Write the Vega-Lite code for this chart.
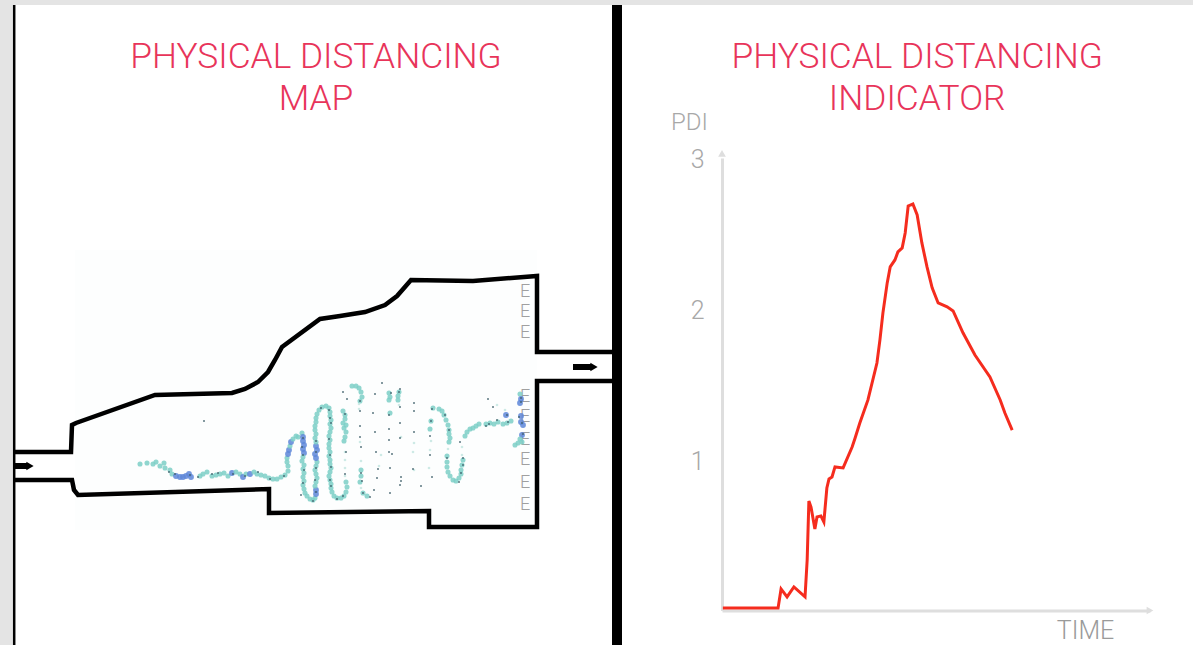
{"$schema":"https://vega.github.io/schema/vega-lite/v6.json","background":"#e4e4e4","padding":{"left":3,"top":0,"right":0,"bottom":0},"spacing":0,"bounds":"flush","config":{"view":{"stroke":null,"fill":"#ffffff"},"font":"Roboto"},
"datasets":{
"walls":[
{"w":"upper","o":1,"x":15,"y":452},{"w":"upper","o":2,"x":71,"y":452},{"w":"upper","o":3,"x":72,"y":425},{"w":"upper","o":4,"x":76,"y":423},{"w":"upper","o":5,"x":155,"y":395},{"w":"upper","o":6,"x":232,"y":393},{"w":"upper","o":7,"x":245,"y":389},{"w":"upper","o":8,"x":258,"y":382},{"w":"upper","o":9,"x":268,"y":372},{"w":"upper","o":10,"x":275,"y":360},{"w":"upper","o":11,"x":282,"y":347},{"w":"upper","o":12,"x":320,"y":319},{"w":"upper","o":13,"x":340,"y":316},{"w":"upper","o":14,"x":365,"y":312},{"w":"upper","o":15,"x":385,"y":305},{"w":"upper","o":16,"x":397,"y":296},{"w":"upper","o":17,"x":411,"y":280},{"w":"upper","o":18,"x":473,"y":281},{"w":"upper","o":19,"x":537,"y":276},{"w":"upper","o":20,"x":537,"y":352},{"w":"upper","o":21,"x":612,"y":352},
{"w":"lower","o":1,"x":15,"y":480},{"w":"lower","o":2,"x":72,"y":480},{"w":"lower","o":3,"x":74,"y":490},{"w":"lower","o":4,"x":78,"y":495},{"w":"lower","o":5,"x":269,"y":489},{"w":"lower","o":6,"x":269,"y":513},{"w":"lower","o":7,"x":429,"y":511},{"w":"lower","o":8,"x":429,"y":527},{"w":"lower","o":9,"x":537,"y":527},{"w":"lower","o":10,"x":537,"y":381},{"w":"lower","o":11,"x":612,"y":381}],
"exits":[{"x":525,"y":292,"t":"E"},{"x":525,"y":312,"t":"E"},{"x":525,"y":333,"t":"E"},{"x":525,"y":397,"t":"E"},{"x":525,"y":417,"t":"E"},{"x":525,"y":440,"t":"E"},{"x":525,"y":460,"t":"E"},{"x":525,"y":483,"t":"E"},{"x":525,"y":505,"t":"E"}],
"dots":[
{"x":140,"y":464,"d":"t"},{"x":147,"y":463,"d":"t"},{"x":153,"y":464,"d":"t"},{"x":156,"y":462,"d":"t"},{"x":160,"y":466,"d":"t"},{"x":164,"y":463,"d":"t"},{"x":165,"y":468,"d":"t"},{"x":170,"y":470,"d":"t"},{"x":172,"y":474,"d":"t"},{"x":176,"y":476,"d":"b"},{"x":180,"y":477,"d":"b"},{"x":183,"y":477,"d":"b"},{"x":186,"y":476,"d":"b"},{"x":189,"y":474,"d":"b"},{"x":191,"y":477,"d":"b"},{"x":200,"y":476,"d":"t"},{"x":203,"y":474,"d":"t"},{"x":207,"y":472,"d":"t"},{"x":212,"y":476,"d":"t"},{"x":216,"y":475,"d":"t"},{"x":220,"y":474,"d":"t"},{"x":224,"y":473,"d":"t"},{"x":228,"y":476,"d":"t"},{"x":232,"y":473,"d":"b"},{"x":236,"y":472,"d":"t"},{"x":240,"y":474,"d":"t"},{"x":243,"y":477,"d":"b"},{"x":246,"y":474,"d":"t"},{"x":250,"y":474,"d":"b"},{"x":254,"y":472,"d":"t"},{"x":257,"y":474,"d":"t"},{"x":261,"y":475,"d":"t"},{"x":265,"y":476,"d":"t"},{"x":269,"y":478,"d":"t"},{"x":273,"y":479,"d":"t"},{"x":277,"y":479,"d":"t"},{"x":281,"y":477,"d":"t"},{"x":285,"y":475,"d":"t"},{"x":288,"y":471,"d":"t"},
{"x":288,"y":466,"d":"t"},{"x":287,"y":462,"d":"t"},{"x":287,"y":458,"d":"t"},{"x":288,"y":454,"d":"b"},{"x":289,"y":450,"d":"b"},{"x":290,"y":446,"d":"t"},{"x":291,"y":442,"d":"b"},{"x":293,"y":439,"d":"t"},{"x":296,"y":436,"d":"t"},{"x":298,"y":437,"d":"t"},
{"x":302,"y":433,"d":"t"},{"x":303,"y":437,"d":"b"},{"x":303,"y":441,"d":"b"},{"x":304,"y":445,"d":"b"},{"x":303,"y":449,"d":"b"},{"x":304,"y":453,"d":"b"},{"x":303,"y":457,"d":"t"},{"x":302,"y":461,"d":"t"},{"x":304,"y":465,"d":"t"},{"x":303,"y":469,"d":"t"},{"x":304,"y":473,"d":"t"},{"x":303,"y":477,"d":"t"},{"x":304,"y":481,"d":"t"},{"x":303,"y":485,"d":"t"},{"x":304,"y":489,"d":"t"},{"x":305,"y":493,"d":"t"},{"x":307,"y":496,"d":"t"},{"x":310,"y":499,"d":"t"},{"x":313,"y":500,"d":"t"},{"x":315,"y":498,"d":"t"},
{"x":316,"y":494,"d":"b"},{"x":316,"y":490,"d":"b"},{"x":315,"y":486,"d":"t"},{"x":316,"y":482,"d":"t"},{"x":317,"y":478,"d":"t"},{"x":316,"y":474,"d":"t"},{"x":315,"y":470,"d":"t"},{"x":316,"y":466,"d":"t"},{"x":317,"y":462,"d":"t"},{"x":316,"y":458,"d":"b"},{"x":315,"y":454,"d":"b"},{"x":317,"y":450,"d":"b"},{"x":316,"y":446,"d":"b"},{"x":316,"y":442,"d":"t"},{"x":315,"y":438,"d":"t"},{"x":316,"y":434,"d":"t"},{"x":315,"y":430,"d":"t"},{"x":315,"y":426,"d":"t"},{"x":316,"y":422,"d":"t"},{"x":316,"y":418,"d":"t"},{"x":317,"y":414,"d":"t"},{"x":319,"y":410,"d":"t"},{"x":322,"y":407,"d":"t"},{"x":326,"y":406,"d":"t"},{"x":329,"y":408,"d":"t"},
{"x":330,"y":412,"d":"t"},{"x":330,"y":416,"d":"t"},{"x":331,"y":420,"d":"t"},{"x":330,"y":424,"d":"t"},{"x":331,"y":428,"d":"t"},{"x":330,"y":432,"d":"t"},{"x":329,"y":436,"d":"t"},{"x":330,"y":440,"d":"t"},{"x":329,"y":444,"d":"t"},{"x":329,"y":448,"d":"t"},{"x":330,"y":452,"d":"t"},{"x":329,"y":456,"d":"t"},{"x":330,"y":460,"d":"t"},{"x":330,"y":464,"d":"t"},{"x":331,"y":468,"d":"t"},{"x":330,"y":472,"d":"t"},{"x":329,"y":476,"d":"t"},{"x":330,"y":480,"d":"t"},{"x":331,"y":484,"d":"t"},{"x":331,"y":488,"d":"t"},{"x":332,"y":492,"d":"t"},{"x":334,"y":496,"d":"t"},{"x":337,"y":498,"d":"t"},{"x":341,"y":498,"d":"t"},{"x":344,"y":496,"d":"t"},{"x":346,"y":492,"d":"t"},{"x":347,"y":487,"d":"t"},{"x":346,"y":482,"d":"t"},{"x":345,"y":476,"d":"f"},{"x":345,"y":468,"d":"f"},{"x":345,"y":460,"d":"f"},{"x":345,"y":452,"d":"f"},
{"x":344,"y":441,"d":"t"},{"x":345,"y":437,"d":"t"},{"x":346,"y":432,"d":"t"},{"x":344,"y":428,"d":"t"},{"x":346,"y":425,"d":"t"},{"x":343,"y":423,"d":"t"},{"x":345,"y":419,"d":"t"},{"x":345,"y":415,"d":"t"},{"x":343,"y":411,"d":"t"},
{"x":352,"y":386,"d":"t"},{"x":356,"y":386,"d":"t"},{"x":359,"y":388,"d":"t"},{"x":361,"y":392,"d":"t"},{"x":362,"y":397,"d":"t"},{"x":360,"y":401,"d":"t"},{"x":359,"y":404,"d":"f"},{"x":359,"y":409,"d":"f"},{"x":360,"y":442,"d":"f"},{"x":361,"y":461,"d":"f"},{"x":361,"y":470,"d":"t"},{"x":361,"y":476,"d":"t"},{"x":360,"y":482,"d":"t"},{"x":361,"y":488,"d":"f"},{"x":363,"y":493,"d":"t"},{"x":367,"y":496,"d":"t"},
{"x":389,"y":393,"d":"t"},{"x":390,"y":397,"d":"t"},{"x":389,"y":400,"d":"t"},{"x":399,"y":392,"d":"t"},{"x":398,"y":396,"d":"t"},{"x":398,"y":400,"d":"t"},{"x":399,"y":405,"d":"f"},{"x":390,"y":413,"d":"t"},{"x":401,"y":437,"d":"f"},{"x":414,"y":443,"d":"f"},{"x":413,"y":452,"d":"f"},{"x":414,"y":470,"d":"f"},{"x":429,"y":468,"d":"f"},{"x":430,"y":450,"d":"f"},{"x":381,"y":455,"d":"f"},{"x":379,"y":466,"d":"f"},
{"x":433,"y":408,"d":"t"},{"x":431,"y":421,"d":"t"},{"x":430,"y":429,"d":"t"},{"x":431,"y":441,"d":"f"},
{"x":439,"y":409,"d":"t"},{"x":442,"y":411,"d":"t"},{"x":444,"y":415,"d":"t"},{"x":446,"y":420,"d":"t"},{"x":448,"y":425,"d":"t"},{"x":449,"y":430,"d":"t"},{"x":449,"y":434,"d":"t"},{"x":450,"y":438,"d":"t"},{"x":449,"y":442,"d":"t"},{"x":448,"y":449,"d":"f"},{"x":447,"y":456,"d":"t"},{"x":447,"y":462,"d":"t"},{"x":447,"y":467,"d":"t"},{"x":448,"y":472,"d":"t"},{"x":450,"y":476,"d":"t"},{"x":453,"y":480,"d":"t"},{"x":456,"y":481,"d":"t"},{"x":459,"y":478,"d":"t"},{"x":461,"y":474,"d":"t"},{"x":461,"y":470,"d":"t"},{"x":462,"y":465,"d":"t"},{"x":463,"y":460,"d":"t"},{"x":462,"y":455,"d":"f"},{"x":462,"y":447,"d":"f"},{"x":465,"y":436,"d":"t"},{"x":467,"y":432,"d":"t"},{"x":470,"y":429,"d":"t"},{"x":473,"y":428,"d":"t"},{"x":476,"y":426,"d":"t"},{"x":479,"y":424,"d":"t"},{"x":486,"y":424,"d":"t"},{"x":490,"y":423,"d":"t"},{"x":494,"y":424,"d":"t"},{"x":498,"y":422,"d":"t"},{"x":503,"y":424,"d":"t"},{"x":507,"y":423,"d":"t"},{"x":511,"y":421,"d":"t"},{"x":505,"y":410,"d":"f"},{"x":497,"y":405,"d":"f"},
{"x":520,"y":394,"d":"t"},{"x":521,"y":399,"d":"b"},{"x":520,"y":403,"d":"b"},{"x":521,"y":416,"d":"b"},{"x":521,"y":422,"d":"b"},{"x":523,"y":425,"d":"b"},{"x":522,"y":435,"d":"b"},{"x":520,"y":439,"d":"t"},{"x":518,"y":443,"d":"t"},{"x":515,"y":445,"d":"t"},{"x":522,"y":442,"d":"t"},{"x":506,"y":415,"d":"b"},
{"x":204,"y":421,"d":"s"},{"x":169,"y":472,"d":"s"},{"x":175,"y":474,"d":"s"},{"x":190,"y":475,"d":"s"},{"x":198,"y":477,"d":"s"},{"x":212,"y":474,"d":"s"},{"x":218,"y":473,"d":"s"},{"x":233,"y":474,"d":"s"},{"x":245,"y":476,"d":"s"},{"x":258,"y":472,"d":"s"},{"x":270,"y":479,"d":"s"},{"x":284,"y":476,"d":"s"},
{"x":303,"y":438,"d":"s"},{"x":302,"y":447,"d":"s"},{"x":303,"y":455,"d":"s"},{"x":304,"y":470,"d":"s"},{"x":303,"y":483,"d":"s"},{"x":301,"y":495,"d":"s"},{"x":313,"y":501,"d":"s"},{"x":316,"y":441,"d":"s"},{"x":316,"y":452,"d":"s"},{"x":316,"y":468,"d":"s"},{"x":315,"y":480,"d":"s"},{"x":316,"y":492,"d":"s"},{"x":321,"y":408,"d":"s"},{"x":329,"y":410,"d":"s"},{"x":330,"y":418,"d":"s"},{"x":331,"y":423,"d":"s"},{"x":329,"y":439,"d":"s"},{"x":330,"y":455,"d":"s"},{"x":331,"y":467,"d":"s"},{"x":330,"y":480,"d":"s"},{"x":331,"y":486,"d":"s"},{"x":337,"y":499,"d":"s"},{"x":343,"y":496,"d":"s"},{"x":345,"y":414,"d":"s"},{"x":345,"y":474,"d":"s"},{"x":346,"y":452,"d":"s"},
{"x":343,"y":392,"d":"s"},{"x":347,"y":399,"d":"s"},{"x":360,"y":401,"d":"s"},{"x":360,"y":411,"d":"s"},{"x":360,"y":426,"d":"s"},{"x":360,"y":437,"d":"s"},{"x":361,"y":447,"d":"s"},{"x":361,"y":473,"d":"s"},{"x":362,"y":481,"d":"s"},{"x":363,"y":493,"d":"s"},{"x":370,"y":497,"d":"s"},{"x":375,"y":394,"d":"s"},{"x":373,"y":413,"d":"s"},{"x":375,"y":432,"d":"s"},{"x":376,"y":452,"d":"s"},{"x":378,"y":469,"d":"s"},{"x":377,"y":478,"d":"s"},{"x":374,"y":490,"d":"s"},{"x":382,"y":383,"d":"s"},{"x":389,"y":415,"d":"s"},{"x":389,"y":429,"d":"s"},{"x":389,"y":440,"d":"s"},{"x":389,"y":452,"d":"s"},{"x":390,"y":468,"d":"s"},{"x":390,"y":493,"d":"s"},{"x":391,"y":393,"d":"s"},{"x":400,"y":389,"d":"s"},{"x":392,"y":454,"d":"s"},{"x":399,"y":392,"d":"s"},{"x":400,"y":407,"d":"s"},{"x":400,"y":423,"d":"s"},{"x":400,"y":438,"d":"s"},{"x":401,"y":477,"d":"s"},{"x":400,"y":485,"d":"s"},{"x":401,"y":481,"d":"s"},{"x":414,"y":403,"d":"s"},{"x":414,"y":411,"d":"s"},{"x":414,"y":432,"d":"s"},{"x":413,"y":469,"d":"s"},{"x":421,"y":486,"d":"s"},{"x":432,"y":409,"d":"s"},{"x":431,"y":421,"d":"s"},{"x":430,"y":436,"d":"s"},{"x":430,"y":455,"d":"s"},{"x":432,"y":477,"d":"s"},{"x":445,"y":415,"d":"s"},{"x":449,"y":430,"d":"s"},{"x":447,"y":458,"d":"s"},{"x":459,"y":482,"d":"s"},{"x":460,"y":442,"d":"s"},{"x":463,"y":458,"d":"s"},{"x":463,"y":465,"d":"s"},{"x":461,"y":473,"d":"s"},{"x":489,"y":424,"d":"s"},{"x":486,"y":426,"d":"s"},{"x":497,"y":420,"d":"s"},{"x":508,"y":422,"d":"s"},{"x":488,"y":399,"d":"s"},{"x":493,"y":407,"d":"s"},{"x":507,"y":415,"d":"s"},{"x":521,"y":402,"d":"s"},{"x":521,"y":398,"d":"s"},{"x":522,"y":423,"d":"s"},{"x":519,"y":417,"d":"s"},{"x":523,"y":434,"d":"s"}],
"arrowShafts":[{"a":"in","x":15,"y":466},{"a":"in","x":28,"y":466},{"a":"out","x":573,"y":367},{"a":"out","x":592,"y":367}],
"arrowHeads":[{"x":30,"y":466},{"x":594,"y":367}],
"leftTitle":[{"x":316,"y":57,"t":"PHYSICAL DISTANCING"},{"x":316,"y":99,"t":"MAP"}],
"rightTitle":[{"time":45.6,"pdi":3.667,"t":"PHYSICAL DISTANCING"},{"time":45.6,"pdi":3.39,"t":"INDICATOR"}],
"pdi":[{"time":0.2,"pdi":0.017},{"time":13.1,"pdi":0.017},{"time":13.8,"pdi":0.143},{"time":15.2,"pdi":0.09},{"time":16.8,"pdi":0.156},{"time":19.4,"pdi":0.09},{"time":19.9,"pdi":0.335},{"time":20.3,"pdi":0.726},{"time":20.8,"pdi":0.686},{"time":21.7,"pdi":0.54},{"time":22.2,"pdi":0.62},{"time":23.1,"pdi":0.627},{"time":23.8,"pdi":0.587},{"time":24.5,"pdi":0.812},{"time":25,"pdi":0.872},{"time":25.7,"pdi":0.885},{"time":26.4,"pdi":0.952},{"time":28.3,"pdi":0.945},{"time":30.4,"pdi":1.084},{"time":31.1,"pdi":1.144},{"time":32.2,"pdi":1.243},{"time":34.1,"pdi":1.396},{"time":36.2,"pdi":1.641},{"time":36.9,"pdi":1.794},{"time":37.6,"pdi":1.973},{"time":38.6,"pdi":2.172},{"time":39.3,"pdi":2.278},{"time":40.4,"pdi":2.324},{"time":41.1,"pdi":2.377},{"time":42.1,"pdi":2.404},{"time":42.8,"pdi":2.503},{"time":43.5,"pdi":2.682},{"time":44.6,"pdi":2.695},{"time":45.6,"pdi":2.622},{"time":46.7,"pdi":2.437},{"time":47.9,"pdi":2.278},{"time":49.1,"pdi":2.139},{"time":50.5,"pdi":2.039},{"time":52.6,"pdi":2.013},{"time":54,"pdi":1.986},{"time":56.3,"pdi":1.841},{"time":59.1,"pdi":1.694},{"time":62.6,"pdi":1.548},{"time":65,"pdi":1.396},{"time":66.1,"pdi":1.309},{"time":67.8,"pdi":1.196}],
"axisTips":[{"time":0,"pdi":3.03,"s":"up"},{"time":100,"pdi":0,"s":"right"}]
},
"hconcat":[
{"width":609,"height":640,
"encoding":{"x":{"field":"x","type":"quantitative","axis":null,"scale":{"domain":[13,622],"range":[0,609]}},"y":{"field":"y","type":"quantitative","axis":null,"scale":{"domain":[5,645],"range":[0,640]}}},
"layer":[
{"data":{"values":[{"x":75,"x2":537,"y":250,"y2":530}]},"mark":{"type":"rect","fill":"#fdfefe"},"encoding":{"x2":{"field":"x2"},"y2":{"field":"y2"}}},
{"data":{"name":"exits"},"mark":{"type":"text","fontSize":18,"fontWeight":300,"color":"#a0a0a0","baseline":"middle","align":"center"},"encoding":{"text":{"field":"t"}}},
{"data":{"name":"dots"},"mark":{"type":"circle","opacity":0.85},"encoding":{"color":{"field":"d","type":"nominal","legend":null,"scale":{"domain":["f","t","b","s"],"range":["#c5e6e2","#7ccfc7","#5d86d8","#3f5f6a"]}},"size":{"field":"d","type":"ordinal","legend":null,"scale":{"type":"ordinal","domain":["f","t","b","s"],"range":[7,26,34,4]}}}},
{"data":{"name":"walls"},"mark":{"type":"line","color":"#000000","strokeWidth":4.5,"strokeJoin":"miter"},"encoding":{"detail":{"field":"w"},"order":{"field":"o"}}},
{"data":{"name":"arrowShafts"},"mark":{"type":"line","color":"#000000","strokeWidth":6},"encoding":{"detail":{"field":"a"}}},
{"data":{"name":"arrowHeads"},"mark":{"type":"point","shape":"triangle-right","filled":true,"color":"#000000","size":70,"opacity":1}},
{"data":{"values":[{"x":14.2,"b":"left"}]},"mark":{"type":"rule","color":"#000000","strokeWidth":2.5},"encoding":{"y":null}},
{"data":{"values":[{"x":617,"b":"divider"}]},"mark":{"type":"rule","color":"#000000","strokeWidth":10},"encoding":{"y":null}},
{"data":{"name":"leftTitle"},"mark":{"type":"text","fontSize":35.3,"fontWeight":300,"color":"#e8345a","baseline":"middle","align":"center"},"encoding":{"text":{"field":"t"}}}
]},
{"width":571,"height":640,
"encoding":{"x":{"field":"time","type":"quantitative","scale":{"domain":[0,100],"range":[100,528]},"axis":{"title":"TIME","orient":"bottom","offset":-34.5,"ticks":false,"labels":false,"grid":false,"domainColor":"#dedede","domainWidth":3,"titleFont":"Roboto","titleFontWeight":300,"titleFontSize":25,"titleColor":"#9a9a9a","titleX":463,"titleY":20,"titleAlign":"center","titleBaseline":"middle"}},
"y":{"field":"pdi","type":"quantitative","scale":{"domain":[0,3],"range":[605.5,153]},"axis":{"title":"PDI","orient":"left","offset":-100,"values":[1,2,3],"ticks":false,"grid":false,"format":"d","domainColor":"#dedede","domainWidth":3,"labelFont":"Roboto","labelFontWeight":300,"labelFontSize":25,"labelColor":"#a8a8a8","labelPadding":18,"labelOffset":1.5,"titleFont":"Roboto","titleFontWeight":300,"titleFontSize":24,"titleColor":"#a8a8a8","titleAngle":0,"titleX":-33,"titleY":117,"titleAlign":"center","titleBaseline":"middle"}}},
"layer":[
{"data":{"name":"axisTips"},"mark":{"type":"point","filled":true,"color":"#dedede","size":60,"opacity":1},"encoding":{"shape":{"field":"s","type":"nominal","legend":null,"scale":{"domain":["up","right"],"range":["triangle-up","triangle-right"]}}}},
{"data":{"name":"pdi"},"mark":{"type":"line","color":"#f52c1e","strokeWidth":3}},
{"data":{"name":"rightTitle"},"mark":{"type":"text","fontSize":35.3,"fontWeight":300,"color":"#e8345a","baseline":"middle","align":"center"},"encoding":{"text":{"field":"t"}}}
]}
]}
